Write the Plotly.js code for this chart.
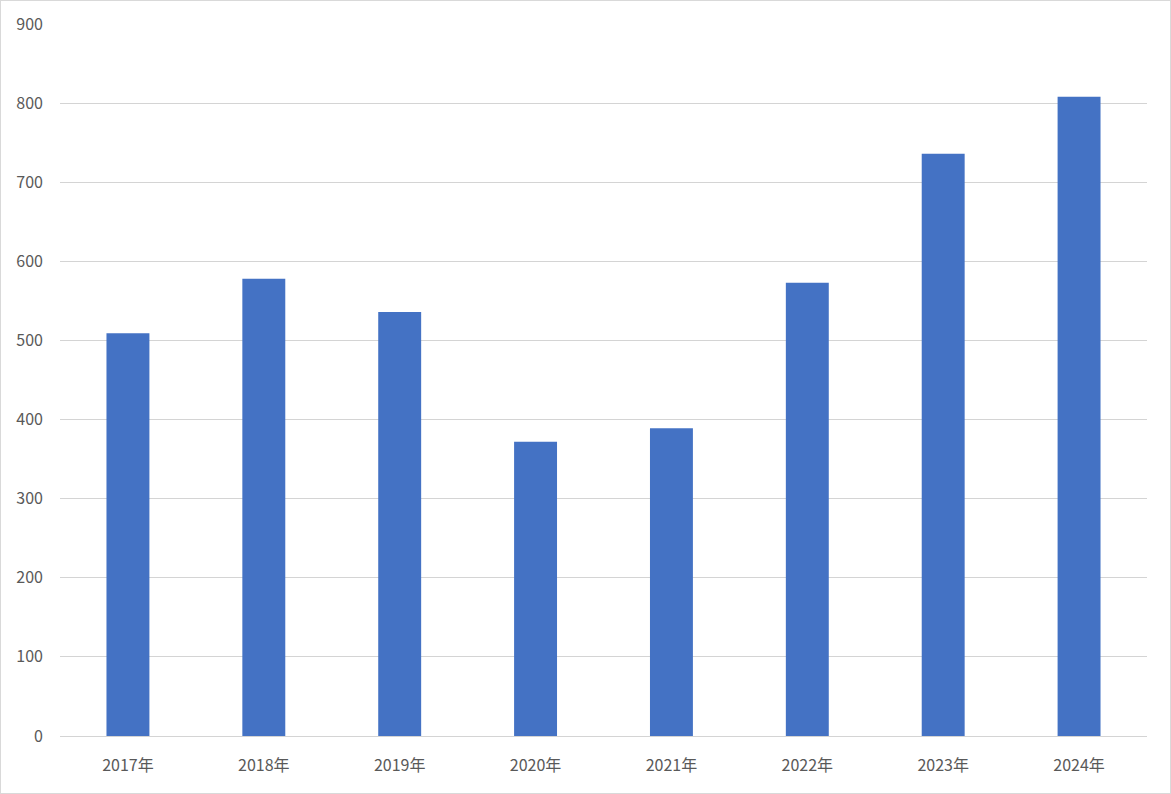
<!DOCTYPE html>
<html><head><meta charset="utf-8">
<script src="https://cdn.plot.ly/plotly-3.0.1.min.js"></script>
<style>
html,body{margin:0;padding:0;background:#fff;}
#wrap{position:relative;width:1171px;height:794px;}
#chart{width:1171px;height:794px;}
#frame{position:absolute;left:0;top:0;width:1169px;height:792px;border:1px solid #d9d9d9;pointer-events:none;}
</style></head>
<body>
<div id="wrap"><div id="chart"></div><div id="frame"></div></div>
<script>
const categories = ["2017年","2018年","2019年","2020年","2021年","2022年","2023年","2024年"];
const values = [509, 578, 536, 372, 389, 573, 736, 808];
const yTicks = [0,100,200,300,400,500,600,700,800,900];

const fontFamily = '"Noto Sans CJK SC", "Noto Sans", sans-serif';
Plotly.newPlot('chart', [{
  type: 'bar',
  x: categories,
  y: values,
  marker: {color: '#4472c4'},
  hoverinfo: 'x+y'
}], {
  width: 1171, height: 794,
  margin: {l: 60, r: 24, t: 24, b: 58},
  paper_bgcolor: '#ffffff', plot_bgcolor: '#ffffff',
  bargap: 0.684,
  showlegend: false,
  font: {family: fontFamily, size: 16, color: '#595959'},
  xaxis: {
    type: 'category',
    showgrid: false, zeroline: false, showline: false,
    ticks: '', ticklen: 0,
    ticklabelstandoff: 18,
    tickfont: {family: fontFamily, size: 16, color: '#595959'}
  },
  yaxis: {
    range: [0, 900],
    tickvals: yTicks,
    ticktext: yTicks.map(String),
    showgrid: true, gridcolor: '#d4d4d4', gridwidth: 1,
    zeroline: true, zerolinecolor: '#d4d4d4', zerolinewidth: 1,
    showline: false, ticks: '',
    ticklabelstandoff: 16,
    tickfont: {family: fontFamily, size: 16, color: '#595959'}
  }
}, {displayModeBar: false, staticPlot: true});
</script>
</body></html>
